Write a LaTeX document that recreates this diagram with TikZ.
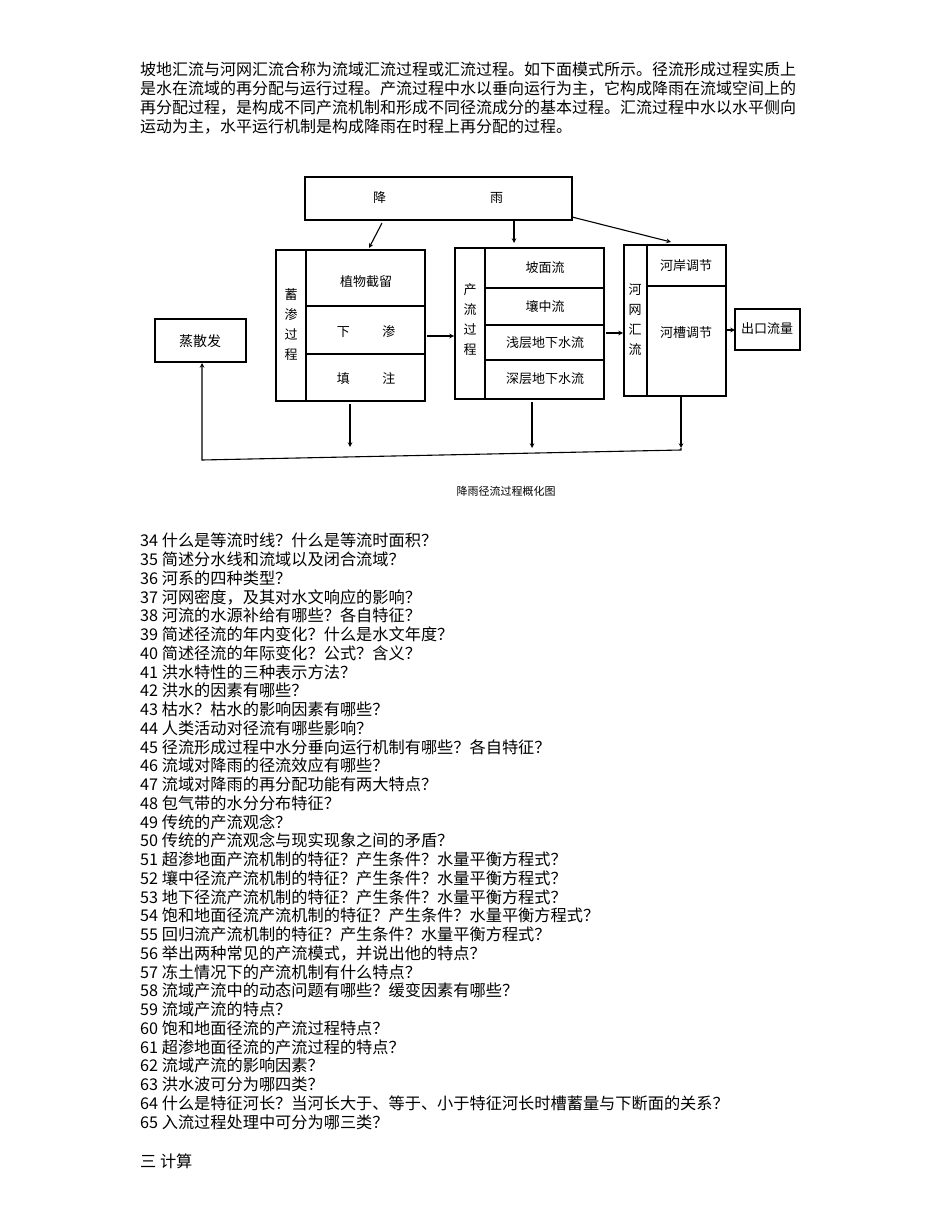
\documentclass[tikz,border=0pt]{standalone}
\usepackage{fontspec}
\setmainfont{Liberation Serif}
\newfontfamily\cjk{Noto Sans CJK SC}
\begin{document}
\begin{tikzpicture}[x=1pt,y=-1pt,
  bx/.style={draw,line width=1.1pt},
  ln/.style={line width=1.1pt},
  ar/.style={line width=1.1pt,-stealth},
  lab/.style={font=\cjk\fontsize{13}{14}\selectfont},
  para/.style={font=\cjk\fontsize{16.2}{18.75}\selectfont,anchor=north west,align=left,inner sep=0}]
\useasboundingbox[fill=white] (0,0) rectangle (950,1230);
\node[para,font=\cjk\fontsize{16}{18.8}\selectfont] (p) at (140,62) {坡地汇流与河网汇流合称为流域汇流过程或汇流过程。如下面模式所示。径流形成过程实质上\\是水在流域的再分配与运行过程。产流过程中水以垂向运行为主，它构成降雨在流域空间上的\\再分配过程，是构成不同产流机制和形成不同径流成分的基本过程。汇流过程中水以水平侧向\\运动为主，水平运行机制是构成降雨在时程上再分配的过程。};
% rain
\draw[bx] (305,177) rectangle (572,220);
\node[lab] (rain) at (438,198) {降\hspace{8em}雨};
% left group
\draw[bx] (276,250) rectangle (425,401);
\draw[ln] (306,250)--(306,401) (306,306)--(425,306) (306,354)--(425,354);
\node[lab,align=center] (xs) at (291,325) {蓄\\[6pt]渗\\[6pt]过\\[6pt]程};
\node[lab] (a1) at (366,282) {植物截留};
\node[lab] (a2) at (366,332) {下\hspace{2.5em}渗};
\node[lab] (a3) at (366,379) {填\hspace{2.5em}注};
% middle group
\draw[bx] (455,248) rectangle (604,399);
\draw[ln] (485,248)--(485,399) (485,288)--(604,288) (485,325)--(604,325) (485,360)--(604,360);
\node[lab,align=center] (cl) at (470,320) {产\\[6pt]流\\[6pt]过\\[6pt]程};
\node[lab] (b1) at (545,268) {坡面流};
\node[lab] (b2) at (545,306) {壤中流};
\node[lab] (b3) at (545,343) {浅层地下水流};
\node[lab] (b4) at (545,379) {深层地下水流};
% right group
\draw[bx] (624,245) rectangle (726,396);
\draw[ln] (647,245)--(647,396) (647,286)--(726,286);
\node[lab,align=center] (hw) at (635,320) {河\\[6pt]网\\[6pt]汇\\[6pt]流};
\node[lab] (c1) at (686,266) {河岸调节};
\node[lab] (c2) at (686,333) {河槽调节};
% outlet & evap
\draw[bx] (735,309) rectangle (800,350);
\node[lab] (out) at (767,329) {出口流量};
\draw[bx] (155,319) rectangle (246,362);
\node[lab,font=\cjk\fontsize{14}{15}\selectfont] (ev) at (200,341) {蒸散发};
% arrows
\draw[ar] (382,223) -- (369,248);
\draw[ar] (514,221) -- (514,243);
\draw[ar] (572,217) -- (671,242);
\draw[ar] (427,336) -- (454,336);
\draw[ar] (606,333) -- (623,333);
\draw[ar] (727,330) -- (735,330);
\draw[ar] (350,404) -- (350,447);
\draw[ar] (532,402) -- (532,448);
\draw[ar] (681,397) -- (681,448);
\draw[ar] (681,448) -- (681,450) -- (202,460) -- (202,363);
\node[lab,font=\cjk\fontsize{11}{12}\selectfont] (cap) at (506,491) {降雨径流过程概化图};
% questions
\node[para] (q) at (140,533) {34 什么是等流时线？什么是等流时面积？\\
35 简述分水线和流域以及闭合流域？\\
36 河系的四种类型？\\
37 河网密度，及其对水文响应的影响？\\
38 河流的水源补给有哪些？各自特征？\\
39 简述径流的年内变化？什么是水文年度？\\
40 简述径流的年际变化？公式？含义？\\
41 洪水特性的三种表示方法？\\
42 洪水的因素有哪些？\\
43 枯水？枯水的影响因素有哪些？\\
44 人类活动对径流有哪些影响？\\
45 径流形成过程中水分垂向运行机制有哪些？各自特征？\\
46 流域对降雨的径流效应有哪些？\\
47 流域对降雨的再分配功能有两大特点？\\
48 包气带的水分分布特征？\\
49 传统的产流观念？\\
50 传统的产流观念与现实现象之间的矛盾？\\
51 超渗地面产流机制的特征？产生条件？水量平衡方程式？\\
52 壤中径流产流机制的特征？产生条件？水量平衡方程式？\\
53 地下径流产流机制的特征？产生条件？水量平衡方程式？\\
54 饱和地面径流产流机制的特征？产生条件？水量平衡方程式？\\
55 回归流产流机制的特征？产生条件？水量平衡方程式？\\
56 举出两种常见的产流模式，并说出他的特点？\\
57 冻土情况下的产流机制有什么特点？\\
58 流域产流中的动态问题有哪些？缓变因素有哪些？\\
59 流域产流的特点？\\
60 饱和地面径流的产流过程特点？\\
61 超渗地面径流的产流过程的特点？\\
62 流域产流的影响因素？\\
63 洪水波可分为哪四类？\\
64 什么是特征河长？当河长大于、等于、小于特征河长时槽蓄量与下断面的关系？\\
65 入流过程处理中可分为哪三类？};
\node[para] (s) at (140,1154) {三 计算};
\end{tikzpicture}
\end{document}
